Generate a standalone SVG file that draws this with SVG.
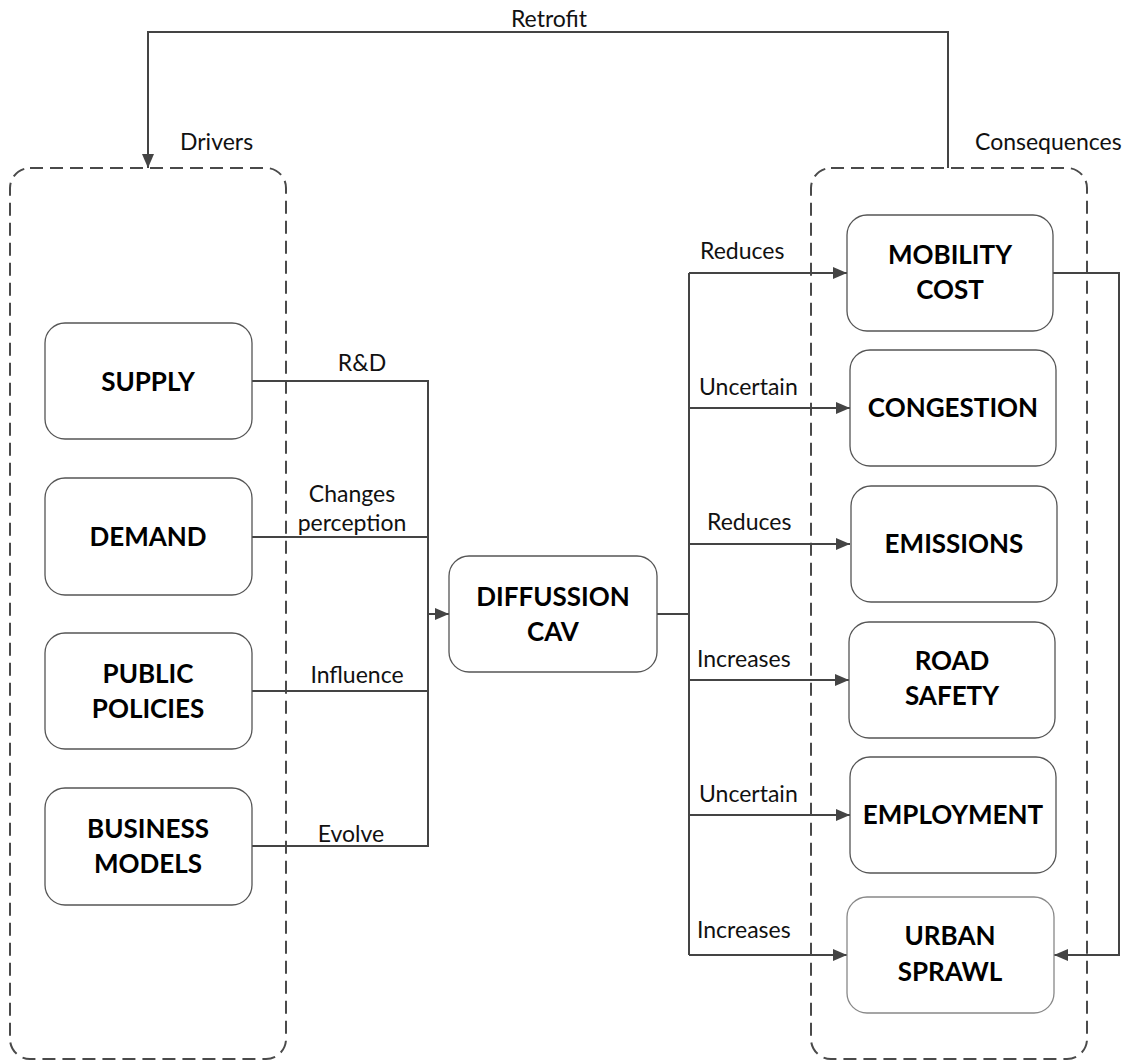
<svg xmlns="http://www.w3.org/2000/svg" width="1130" height="1061" viewBox="0 0 1130 1061">
  <style>
    .frame { fill: none; stroke: #4a4a4a; stroke-width: 2; stroke-dasharray: 13 7; }
    .box { fill: #fff; stroke: #555; stroke-width: 1.3; }
    .name { font-family: Lato, "Liberation Sans", sans-serif; font-weight: bold; font-size: 26px; fill: #000; text-anchor: middle; }
    .lbl { font-family: Lato, "Liberation Sans", sans-serif; font-size: 23px; fill: #111; }
    .mid { text-anchor: middle; }
    .wire { fill: none; stroke: #444; stroke-width: 2; }
    .arr { marker-end: url(#head); }
  </style>
  <defs>
    <marker id="head" markerWidth="14" markerHeight="12" refX="14" refY="6" orient="auto" markerUnits="userSpaceOnUse">
      <path d="M0,0 L14,6 L0,12 Z" fill="#444"/>
    </marker>
  </defs>
  <rect width="1130" height="1061" fill="#fff"/>

  <!-- groupings -->
  <g id="drivers">
    <rect class="frame" x="10" y="168" width="276" height="891" rx="20"/>
    <text class="lbl" x="180" y="150">Drivers</text>
  </g>
  <g id="consequences">
    <rect class="frame" x="811" y="168" width="276" height="891" rx="20"/>
    <text class="lbl" x="975" y="150">Consequences</text>
  </g>

  <!-- connectors -->
  <g id="connectors">
    <path class="wire arr" d="M948,168 V32 H148 V168"/>
    <text class="lbl mid" x="549" y="27">Retrofit</text>

    <path class="wire" d="M252,381 H428 V846 H252"/>
    <path class="wire" d="M252,537 H428"/>
    <path class="wire" d="M252,691 H428"/>
    <path class="wire arr" d="M428,614 H449"/>
    <text class="lbl mid" x="362" y="371">R&amp;D</text>
    <text class="lbl mid" x="352" y="502">Changes</text>
    <text class="lbl mid" x="352" y="531">perception</text>
    <text class="lbl mid" x="357" y="683">Influence</text>
    <text class="lbl mid" x="351" y="842">Evolve</text>

    <path class="wire" d="M657,614 H689"/>
    <path class="wire" d="M689,273 V955"/>
    <path class="wire arr" d="M689,273 H847"/>
    <path class="wire arr" d="M689,408 H850"/>
    <path class="wire arr" d="M689,544 H850"/>
    <path class="wire arr" d="M689,680 H849"/>
    <path class="wire arr" d="M689,815 H850"/>
    <path class="wire arr" d="M689,955 H847"/>
    <text class="lbl" x="700" y="259">Reduces</text>
    <text class="lbl" x="699" y="395">Uncertain</text>
    <text class="lbl" x="707" y="530">Reduces</text>
    <text class="lbl" x="697" y="667">Increases</text>
    <text class="lbl" x="699" y="802">Uncertain</text>
    <text class="lbl" x="697" y="938">Increases</text>

    <path class="wire arr" d="M1053,273 H1119 V955 H1054"/>
  </g>

  <!-- driver nodes -->
  <g id="supply">
    <rect class="box" x="45" y="323" width="207" height="116" rx="20"/>
    <text class="name" x="148" y="391">SUPPLY</text>
  </g>
  <g id="demand">
    <rect class="box" x="45" y="478" width="207" height="117" rx="20"/>
    <text class="name" x="148" y="546">DEMAND</text>
  </g>
  <g id="public-policies">
    <rect class="box" x="45" y="633" width="207" height="116" rx="20"/>
    <text class="name" x="148" y="683">PUBLIC</text>
    <text class="name" x="148" y="718">POLICIES</text>
  </g>
  <g id="business-models">
    <rect class="box" x="45" y="788" width="207" height="117" rx="20"/>
    <text class="name" x="148" y="838">BUSINESS</text>
    <text class="name" x="148" y="873">MODELS</text>
  </g>

  <!-- central node -->
  <g id="diffusion-cav">
    <rect class="box" x="449" y="556" width="208" height="116" rx="20"/>
    <text class="name" x="553" y="606">DIFFUSSION</text>
    <text class="name" x="553" y="641">CAV</text>
  </g>

  <!-- consequence nodes -->
  <g id="mobility-cost">
    <rect class="box" x="847" y="215" width="206" height="116" rx="20"/>
    <text class="name" x="950" y="264">MOBILITY</text>
    <text class="name" x="950" y="299">COST</text>
  </g>
  <g id="congestion">
    <rect class="box" x="850" y="350" width="206" height="116" rx="20"/>
    <text class="name" x="953" y="417">CONGESTION</text>
  </g>
  <g id="emissions">
    <rect class="box" x="851" y="486" width="206" height="116" rx="20"/>
    <text class="name" x="954" y="553">EMISSIONS</text>
  </g>
  <g id="road-safety">
    <rect class="box" x="849" y="622" width="206" height="116" rx="20"/>
    <text class="name" x="952" y="670">ROAD</text>
    <text class="name" x="952" y="705">SAFETY</text>
  </g>
  <g id="employment">
    <rect class="box" x="850" y="757" width="206" height="116" rx="20"/>
    <text class="name" x="953" y="824">EMPLOYMENT</text>
  </g>
  <g id="urban-sprawl">
    <rect class="box" x="847" y="897" width="207" height="116" rx="20" style="stroke:#888"/>
    <text class="name" x="950" y="945">URBAN</text>
    <text class="name" x="950" y="981">SPRAWL</text>
  </g>
</svg>
